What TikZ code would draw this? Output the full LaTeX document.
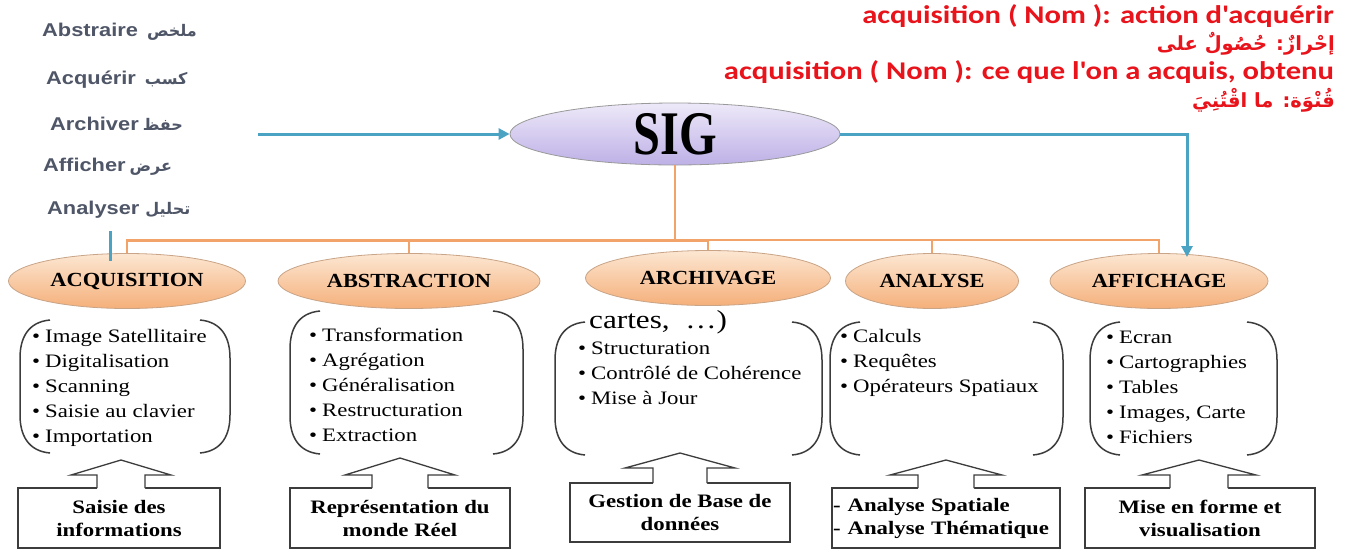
\documentclass[tikz,border=0pt]{standalone}
\usepackage{fontspec}
\setmainfont{Liberation Serif}
\newfontfamily\itemfont[FakeStretch=1.2]{Liberation Serif}
\newfontfamily\sigfont[FakeStretch=0.78]{Liberation Serif}
\newfontfamily\ovalfont[FakeStretch=1.12]{Liberation Serif}
\newfontfamily\redfont[FakeStretch=1.2]{Carlito}
\newfontfamily\wordfont[FakeStretch=1.18]{Liberation Sans}
\newfontfamily\arabfont[Script=Arabic]{DejaVu Sans}
\TeXXeTstate=1
\usetikzlibrary{shapes.geometric,arrows.meta}
\definecolor{blueln}{HTML}{4BA3C3}
\definecolor{orln}{HTML}{F2A36A}
\definecolor{redtx}{HTML}{E8131B}
\definecolor{graytx}{HTML}{4F5667}
\definecolor{orTop}{HTML}{FCE6D2}
\definecolor{orBot}{HTML}{F5B07A}
\definecolor{orBorder}{HTML}{C9A486}
\definecolor{lavTop}{HTML}{EEE9F9}
\definecolor{lavBot}{HTML}{BDB0E6}
\definecolor{boxgray}{HTML}{3C3C3C}
\tikzset{
  bluearr/.style={draw=blueln, line width=3pt, -{Triangle[length=11pt,width=11pt]}},
  blueline/.style={draw=blueln, line width=3pt},
  orline/.style={draw=orln, line width=2pt},
  oval/.style={ellipse, draw=orBorder, line width=0.8pt, top color=orTop, bottom color=orBot,
    inner sep=0pt, minimum height=55pt, font=\ovalfont\bfseries\fontsize{20}{22}\selectfont},
  sigoval/.style={ellipse, draw=gray!80, line width=0.8pt, top color=lavTop, bottom color=lavBot,
    inner sep=0pt, minimum width=330pt, minimum height=62pt, font=\sigfont\bfseries\fontsize{62}{64}\selectfont},
  item/.style={anchor=west, inner sep=0pt, text height=13pt, text depth=4pt,
    font=\itemfont\fontsize{19}{22}\selectfont},
  lbl/.style={rectangle, draw=boxgray, line width=1.3pt, fill=white, inner sep=0pt,
    minimum height=60pt, align=center, font=\itemfont\bfseries\fontsize{19}{23}\selectfont},
  word/.style={anchor=west, inner sep=0pt, text=graytx, font=\wordfont\bfseries\fontsize{18.5}{20}\selectfont},
  redl/.style={anchor=east, inner sep=0pt, text=redtx, font=\redfont\bfseries\fontsize{25.5}{28}\selectfont},
  reda/.style={anchor=east, inner sep=0pt, text=redtx, font=\arabfont\bfseries\fontsize{19.5}{22}\selectfont},
  bracket/.style={draw=boxgray, line width=1.5pt},
  arrline/.style={draw=boxgray, line width=1.3pt, line join=miter},
}
\newcommand\arw[1]{{\arabfont\fontsize{16}{18}\selectfont\beginR #1\endR}}
\newcommand\parenpair[4]{%
  \draw[bracket] (#1+30,#3) .. controls (#1+8,#3+2) and (#1,#3+18) .. (#1,#3+38)
     -- (#1,#4-38) .. controls (#1,#4-18) and (#1+8,#4-2) .. (#1+30,#4);
  \draw[bracket] (#2-30,#3) .. controls (#2-8,#3+2) and (#2,#3+18) .. (#2,#3+38)
     -- (#2,#4-38) .. controls (#2,#4-18) and (#2-8,#4-2) .. (#2-30,#4);}
\newcommand\blockarrow[6]{%
  \fill[white] (#1-#5,#6+1) -- (#1-#5,#3) -- (#1-#4,#3) -- (#1,#2) -- (#1+#4,#3) -- (#1+#5,#3) -- (#1+#5,#6+1) -- cycle;
  \draw[arrline] (#1-#5,#6) -- (#1-#5,#3) -- (#1-#4,#3) -- (#1,#2) -- (#1+#4,#3) -- (#1+#5,#3) -- (#1+#5,#6);}
\begin{document}
\begin{tikzpicture}[x=1pt,y=-1pt]
\useasboundingbox[fill=white] (0,0) rectangle (1350,550);

% left words
\node[word] (w1) at (42,32) {Abstraire\hspace{9pt}\arw{ملخص}};
\node[word] (w2) at (46,80) {Acquérir\hspace{9pt}\arw{كسب}};
\node[word] (w3) at (50,124) {Archiver\hspace{4pt}\arw{حفظ}};
\node[word] (w4) at (43,167) {Afficher\hspace{4pt}\arw{عرض}};
\node[word] (w5) at (47,210) {Analyser\hspace{6pt}\arw{تحليل}};

% red definitions
\node[redl] (r1) at (1334,16) {acquisition ( Nom ): action d'acquérir};
\node[reda] (r2) at (1335,44) {\beginR إحْرازٌ: حُصُولٌ على\endR};
\node[redl] (r3) at (1334,72) {acquisition ( Nom ): ce que l'on a acquis, obtenu};
\node[reda] (r4) at (1335,100) {\beginR قُنْوَة: ما اقْتُنِيَ\endR};

% SIG
\node[sigoval] (sig) at (675,134) {SIG};

% category ellipses
\node[oval, minimum width=237pt] (acq) at (127,281) {ACQUISITION};
\node[oval, minimum width=262pt] (abs) at (409,281) {ABSTRACTION};
\node[oval, minimum width=245pt] (arc) at (708,278) {ARCHIVAGE};
\node[oval, minimum width=173pt] (ana) at (932,281) {ANALYSE};
\node[oval, minimum width=218pt] (aff) at (1159,281) {AFFICHAGE};

% orange tree
\coordinate (bus) at (675,240);
\draw[orline] (sig.south) -- (bus);
\draw[orline] (acq.north) |- (bus) -| (aff.north);
\draw[orline, line width=3pt] (acq.north |- bus) -- (arc.north |- bus);
\foreach \n in {abs,arc,ana} \draw[orline] (\n.north) -- (\n.north |- bus);

% blue connectors
\coordinate (bstart) at (258,134);
\draw[bluearr] (bstart) -- (sig.west);
\coordinate (affin) at (1187,257);
\draw[bluearr] (sig.east) -| (affin);
\coordinate (ana1) at (110,231);
\coordinate (ana2) at (110,261);
\draw[blueline] (ana1) -- (ana2);

% brackets
\parenpair{20}{230}{320}{453}
\parenpair{290}{523}{311}{454}
\parenpair{555}{822}{322}{455}
\parenpair{830}{1063}{322}{455}
\parenpair{1090}{1277}{322}{455}

% list items
\foreach \t [count=\i] in {Image Satellitaire, Digitalisation, Scanning, Saisie au clavier, Importation}
  \node[item] (acqi\i) at (32,{313+25*\i}) {\textbullet\hspace{5pt}\t};
\foreach \t [count=\i] in {Transformation, Agrégation, Généralisation, Restructuration, Extraction}
  \node[item] (absi\i) at (309,{312+25*\i}) {\textbullet\hspace{5pt}\t};
\node[anchor=west, inner sep=0pt, font=\itemfont\fontsize{26}{28}\selectfont] (cartes) at (589,322) {cartes,\ \ \ldots)};
\foreach \t [count=\i] in {Structuration, Contrôlé de Cohérence, Mise à Jour}
  \node[item] (arci\i) at (578,{325+25*\i}) {\textbullet\hspace{5pt}\t};
\foreach \t [count=\i] in {Calculs, Requêtes, Opérateurs Spatiaux}
  \node[item] (anai\i) at (840,{313+25*\i}) {\textbullet\hspace{5pt}\t};
\foreach \t [count=\i] in {Ecran, Cartographies, Tables, {Images, Carte}, Fichiers}
  \node[item] (affi\i) at (1106,{314+25*\i}) {\textbullet\hspace{5pt}\t};

% bottom boxes
\node[lbl, minimum width=202pt] (bacq) at (119,518) {Saisie des\\informations};
\node[lbl, minimum width=220pt] (babs) at (400,518) {Représentation du\\monde Réel};
\node[lbl, minimum width=220pt, minimum height=59pt] (barc) at (680,512.5) {Gestion de Base de\\données};
\node[lbl, minimum width=228pt, text width=226pt, align=left] (bana) at (946,518) {-\hspace{7pt}Analyse Spatiale\\-\hspace{7pt}Analyse Thématique};
\node[lbl, minimum width=230pt] (baff) at (1200,518) {Mise en forme et\\visualisation};

% block arrows
\blockarrow{121}{460}{475}{50}{24}{488}
\blockarrow{400}{458}{475}{55}{28}{488}
\blockarrow{680}{453}{468}{55}{27}{483}
\blockarrow{946}{460}{475}{56}{28}{488}
\blockarrow{1199}{460}{475}{57}{29}{488}
\end{tikzpicture}
\end{document}
